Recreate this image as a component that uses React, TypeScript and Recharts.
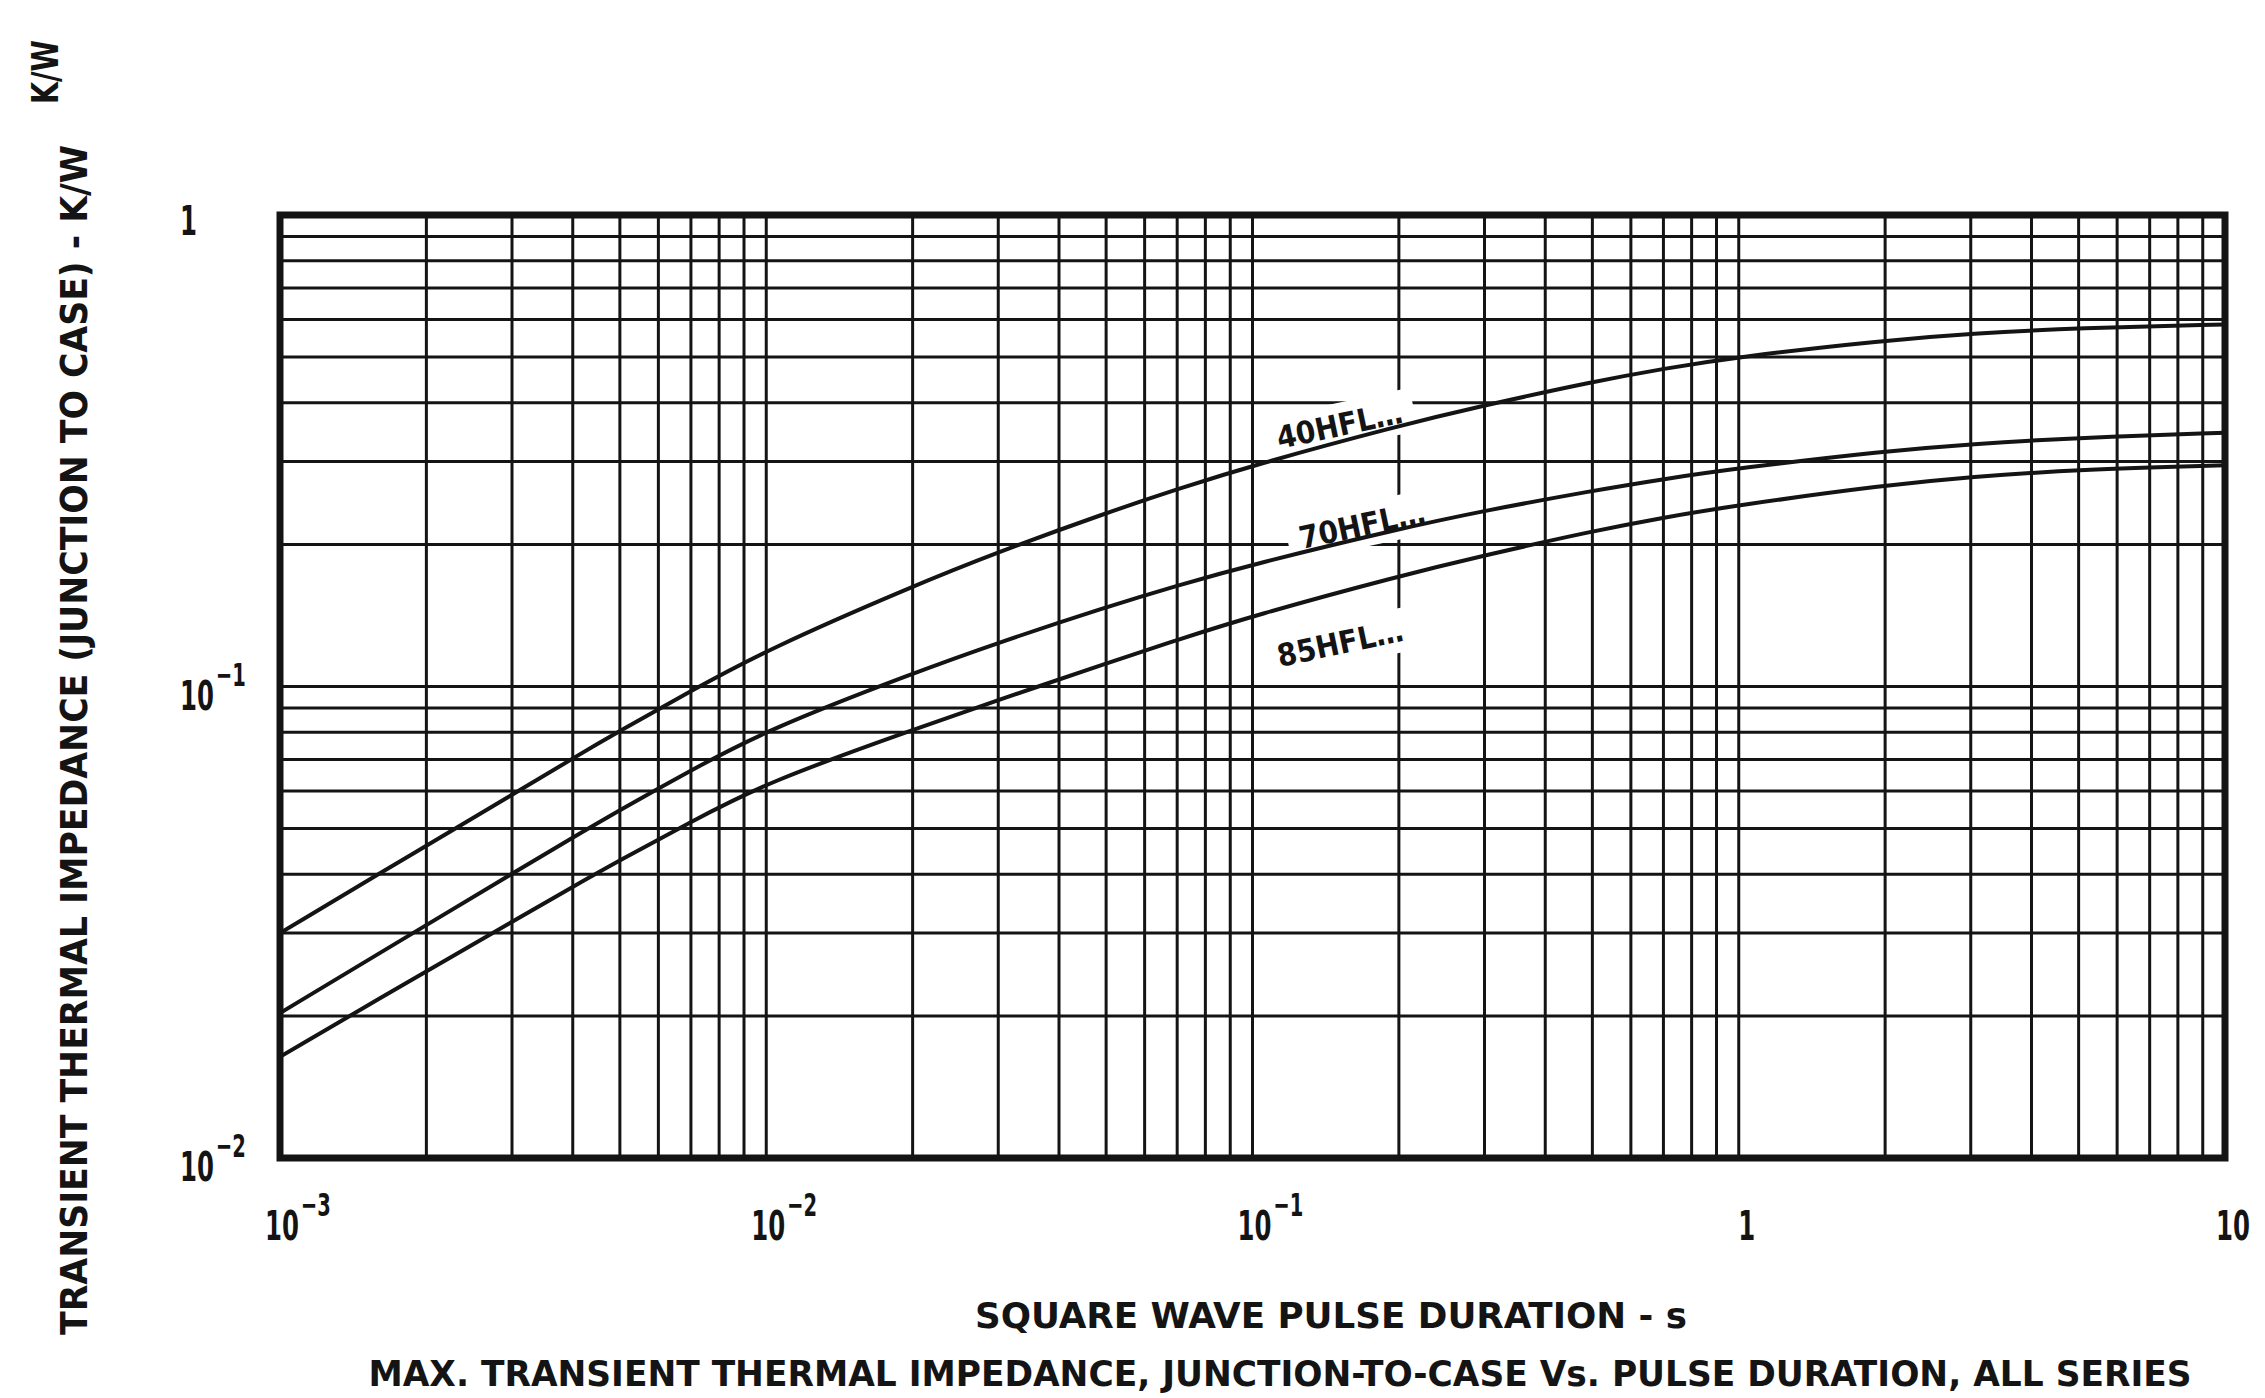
import { LineChart, Line, XAxis, YAxis, ReferenceLine, ReferenceArea, ReferenceDot } from "recharts";

// pulse duration (s) read at the same points for every curve
const PULSE_S = [0.001, 0.002, 0.003, 0.004, 0.005, 0.007, 0.01, 0.02, 0.03, 0.05, 0.07, 0.1, 0.2, 0.3, 0.5, 0.7, 1, 2, 3, 5, 10];

// Zth(j-c), K/W
const Z_40HFL = [0.030, 0.046, 0.0589, 0.0704, 0.0805, 0.0978, 0.1195, 0.1632, 0.1928, 0.2334, 0.2621, 0.2944, 0.3574, 0.3947, 0.4428, 0.4721, 0.5006, 0.5423, 0.5602, 0.5761, 0.5861];
const Z_70HFL = [0.0203, 0.0312, 0.0401, 0.0478, 0.0547, 0.0664, 0.0808, 0.1067, 0.1239, 0.1474, 0.1637, 0.1816, 0.2159, 0.236, 0.2601, 0.2754, 0.2905, 0.3158, 0.3268, 0.337, 0.3452];
const Z_85HFL = [0.0164, 0.0249, 0.0317, 0.0376, 0.0428, 0.0516, 0.0626, 0.0809, 0.0936, 0.1119, 0.1255, 0.1412, 0.1715, 0.1898, 0.2135, 0.2283, 0.2426, 0.2673, 0.2784, 0.2884, 0.2945];

const SERIES = [
  { name: "40HFL…", values: Z_40HFL, labelAt: [0.151, 0.3585] },
  { name: "70HFL…", values: Z_70HFL, labelAt: [0.168, 0.22] },
  { name: "85HFL…", values: Z_85HFL, labelAt: [0.1514, 0.1237] },
];

const X_TICKS = [0.001, 0.01, 0.1, 1, 10];
const Y_TICKS = [0.01, 0.1, 1];
const X_TITLE = "SQUARE WAVE PULSE DURATION - s";
const Y_TITLE = "TRANSIENT THERMAL IMPEDANCE (JUNCTION TO CASE) - K/W";
const CAPTION = "MAX. TRANSIENT THERMAL IMPEDANCE, JUNCTION-TO-CASE Vs. PULSE DURATION, ALL SERIES";

// log paper grid: 1..9 in each decade, edges handled by the frame
const gridValues = (fromExp: number, toExp: number) => {
  const out: number[] = [];
  for (let e = fromExp; e < toExp; e++) {
    for (let m = 1; m <= 9; m++) {
      if (e === fromExp && m === 1) continue;
      out.push(Number((m * Math.pow(10, e)).toPrecision(3)));
    }
  }
  return out;
};
const X_GRID = gridValues(-3, 1);
const Y_GRID = gridValues(-2, 0);

const INK = "#141414";
const FONT = "'Liberation Sans Narrow', 'DejaVu Sans Condensed', 'Liberation Sans', sans-serif";
const NUM_FONT = "'DejaVu Sans', sans-serif";
const SQUEEZE = 0.61;

// "10" with a raised exponent, squeezed to the narrow plotter digits; one text element
const Pow = ({ x, y, label, exp }: any) => (
  <text
    transform={`translate(${x} ${y}) scale(${SQUEEZE} 1)`}
    fontFamily={NUM_FONT}
    fontWeight="bold"
    fontSize={40}
    fill={INK}
  >
    <tspan x={0} y={0}>{label}</tspan>
    {exp != null && (
      <tspan x={59} y={-24} fontSize={32}>{"\u2212" + exp}</tspan>
    )}
  </text>
);

const XTick = ({ x, y, payload }: any) => {
  const v = payload.value;
  const exp = Math.round(Math.log10(v));
  if (exp >= 0) {
    const s = String(v);
    const w = s.length * 17;
    return <Pow x={x + 8 - w / 2} y={y + 82} label={s} />;
  }
  return <Pow x={x - 15} y={y + 82} label="10" exp={Math.abs(exp)} />;
};

const YTick = ({ x, y, payload }: any) => {
  const v = payload.value;
  const exp = Math.round(Math.log10(v));
  const left = x - 100;
  if (exp >= 0) return <Pow x={left} y={y + 20} label={String(v)} />;
  return <Pow x={left} y={y + 23} label="10" exp={Math.abs(exp)} />;
};

const CurveLabel = (text: string) => (props: any) => {
  const { cx, cy } = props;
  return (
    <g transform={`rotate(-12 ${cx} ${cy})`}>
      <rect x={cx - 76} y={cy - 22} width={152} height={44} fill="#fff" />
      <text x={cx} y={cy + 11} textAnchor="middle" fontFamily={FONT} fontWeight="bold" fontSize={31} fill={INK} textLength={128} lengthAdjust="spacingAndGlyphs">
        {text}
      </text>
    </g>
  );
};

export default function App() {
  return (
    <div style={{ position: "absolute", left: 0, top: 0, width: 2265, height: 1398, background: "#fff" }}>
      <LineChart width={2265} height={1398} margin={{ top: 215, right: 40, bottom: 140, left: 180 }}>
        <XAxis
          type="number"
          dataKey="t"
          scale="log"
          domain={[0.001, 10]}
          ticks={X_TICKS}
          allowDataOverflow
          axisLine={false}
          tickLine={false}
          tickSize={0}
          tickMargin={0}
          height={100}
          tick={<XTick />}
        />
        <YAxis
          type="number"
          scale="log"
          domain={[0.01, 1]}
          ticks={Y_TICKS}
          allowDataOverflow
          axisLine={false}
          tickLine={false}
          tickSize={0}
          tickMargin={0}
          width={100}
          tick={<YTick />}
        />

        {X_GRID.map((v) => (
          <ReferenceLine key={"gx" + v} x={v} stroke={INK} strokeWidth={3} zIndex={50} />
        ))}
        {Y_GRID.map((v) => (
          <ReferenceLine key={"gy" + v} y={v} stroke={INK} strokeWidth={3} zIndex={50} />
        ))}

        {SERIES.map((s) => (
          <ReferenceDot
            key={"lbl" + s.name}
            x={s.labelAt[0]}
            y={s.labelAt[1]}
            r={1}
            zIndex={60}
            shape={CurveLabel(s.name)}
          />
        ))}

        <ReferenceArea x1={0.001} x2={10} y1={0.01} y2={1} fill="none" stroke={INK} strokeWidth={7} zIndex={70} />

        {SERIES.map((s) => (
          <Line
            key={s.name}
            data={PULSE_S.map((t, i) => ({ t, z: s.values[i] }))}
            dataKey="z"
            type="basis"
            stroke={INK}
            strokeWidth={4}
            dot={false}
            activeDot={false}
            isAnimationActive={false}
          />
        ))}
      </LineChart>

      <svg width={2265} height={1398} style={{ position: "absolute", left: 0, top: 0, pointerEvents: "none" }}>
        <text x={45} y={72} transform="rotate(-90 45 72)" textAnchor="middle" dominantBaseline="central" fontFamily={FONT} fontWeight="bold" fontSize={38} fill={INK} textLength={64} lengthAdjust="spacingAndGlyphs">
          K/W
        </text>
        <text x={74} y={740} transform="rotate(-90 74 740)" textAnchor="middle" dominantBaseline="central" fontFamily={FONT} fontWeight="bold" fontSize={38} fill={INK} textLength={1190} lengthAdjust="spacingAndGlyphs">
          {Y_TITLE}
        </text>
        <text x={1331} y={1328} textAnchor="middle" fontFamily={FONT} fontWeight="bold" fontSize={36} fill={INK} textLength={712} lengthAdjust="spacingAndGlyphs">
          {X_TITLE}
        </text>
        <text x={1280} y={1386} textAnchor="middle" fontFamily={FONT} fontWeight="bold" fontSize={36} fill={INK} textLength={1823} lengthAdjust="spacingAndGlyphs">
          {CAPTION}
        </text>
      </svg>
    </div>
  );
}
